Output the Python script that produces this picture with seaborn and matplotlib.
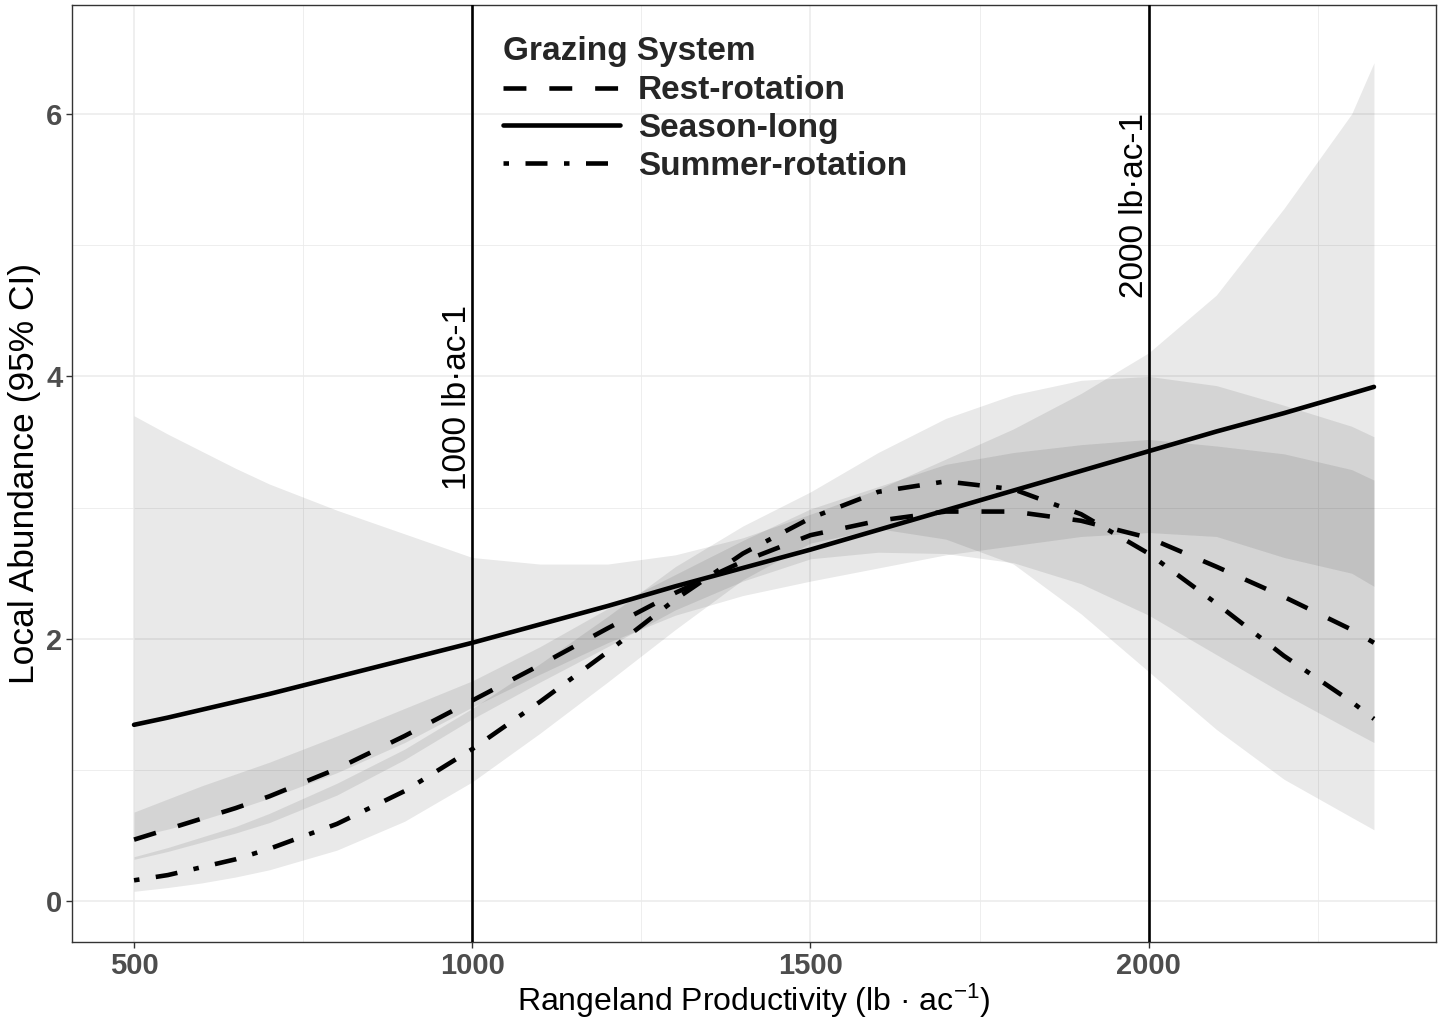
import numpy as np
import pandas as pd
import matplotlib
matplotlib.use("Agg")
import matplotlib.pyplot as plt
import seaborn as sns
from matplotlib.lines import Line2D

# ---------------- data ----------------
productivity = [500, 550, 600, 650, 700, 800, 900, 1000, 1100, 1200, 1300, 1400,
                1500, 1600, 1700, 1800, 1900, 2000, 2100, 2200, 2300, 2333]

season_long = [1.345, 1.40, 1.46, 1.52, 1.58, 1.71, 1.84, 1.97, 2.11, 2.25, 2.40, 2.54,
               2.68, 2.83, 2.98, 3.13, 3.28, 3.43, 3.58, 3.72, 3.87, 3.92]
season_long_lo = [0.49, 0.55, 0.62, 0.70, 0.785, 0.98, 1.21, 1.48, 1.73, 1.97, 2.18, 2.33,
                  2.44, 2.54, 2.64, 2.71, 2.78, 2.81, 2.78, 2.62, 2.50, 2.40]
season_long_hi = [3.70, 3.56, 3.43, 3.30, 3.18, 2.98, 2.80, 2.62, 2.57, 2.57, 2.64, 2.77,
                  2.95, 3.14, 3.37, 3.60, 3.87, 4.18, 4.62, 5.28, 6.00, 6.39]

rest_rotation = [0.47, 0.55, 0.63, 0.71, 0.80, 1.01, 1.26, 1.53, 1.80, 2.08, 2.35, 2.59,
                 2.79, 2.90, 2.97, 2.97, 2.90, 2.77, 2.55, 2.32, 2.07, 1.97]
rest_rotation_lo = [0.32, 0.38, 0.45, 0.52, 0.60, 0.81, 1.08, 1.39, 1.67, 1.94, 2.22, 2.44,
                    2.61, 2.66, 2.65, 2.58, 2.42, 2.18, 1.88, 1.58, 1.30, 1.21]
rest_rotation_hi = [0.68, 0.78, 0.88, 0.97, 1.06, 1.26, 1.47, 1.68, 1.94, 2.23, 2.49, 2.75,
                    2.99, 3.16, 3.33, 3.42, 3.48, 3.52, 3.47, 3.41, 3.29, 3.21]

summer_rotation = [0.16, 0.20, 0.26, 0.32, 0.40, 0.59, 0.84, 1.16, 1.52, 1.90, 2.30, 2.65,
                   2.92, 3.12, 3.20, 3.14, 2.95, 2.65, 2.27, 1.87, 1.52, 1.39]
summer_rotation_lo = [0.076, 0.105, 0.14, 0.185, 0.24, 0.39, 0.61, 0.91, 1.28, 1.67, 2.07, 2.45,
                      2.73, 2.84, 2.76, 2.57, 2.19, 1.75, 1.31, 0.93, 0.64, 0.545]
summer_rotation_hi = [0.34, 0.41, 0.49, 0.57, 0.67, 0.90, 1.16, 1.47, 1.81, 2.17, 2.55, 2.86,
                      3.12, 3.42, 3.68, 3.86, 3.97, 4.00, 3.93, 3.78, 3.62, 3.54]

systems = ["Rest-rotation", "Season-long", "Summer-rotation"]
ref_lines = [1000, 2000]
ref_labels = ["1000 lb\u00b7ac-1", "2000 lb\u00b7ac-1"]
ref_label_y = [3.84, 5.30]
x_major = [500, 1000, 1500, 2000]
x_minor = [750, 1250, 1750, 2250]
y_major = [0, 2, 4, 6]
y_minor = [1, 3, 5]

# ---------------- styling ----------------
sns.set_theme(style="white")
plt.rcParams["font.family"] = ["Liberation Sans", "DejaVu Sans"]
plt.rcParams["mathtext.fontset"] = "custom"
plt.rcParams["mathtext.rm"] = "Liberation Sans"
plt.rcParams["mathtext.default"] = "regular"

W, H = 1451, 1022
AX_L, AX_R, AX_T, AX_B = 72, 1436, 5, 942
fig = plt.figure(figsize=(W / 100, H / 100), dpi=100)
ax = fig.add_axes([AX_L / W, 1 - AX_B / H, (AX_R - AX_L) / W, (AX_B - AX_T) / H])

# ribbons
ribbons = [(rest_rotation_lo, rest_rotation_hi),
           (season_long_lo, season_long_hi),
           (summer_rotation_lo, summer_rotation_hi)]
for lo, hi in ribbons:
    ax.fill_between(productivity, lo, hi, color="black", alpha=0.085, lw=0, zorder=2)

# lines via seaborn
n = len(productivity)
df = pd.DataFrame({
    "Productivity": productivity * 3,
    "Abundance": rest_rotation + season_long + summer_rotation,
    "System": [systems[0]] * n + [systems[1]] * n + [systems[2]] * n,
})
dash_map = {"Rest-rotation": (5.0, 5.0), "Season-long": "",
            "Summer-rotation": (1.2, 3.6, 4.8, 3.6)}
sns.lineplot(data=df, x="Productivity", y="Abundance", style="System",
             dashes=dash_map, color="black", linewidth=3.3, legend=False,
             sort=True, estimator=None, ax=ax, zorder=4)

# reference lines + labels
for xv, lab, yv in zip(ref_lines, ref_labels, ref_label_y):
    ax.axvline(xv, color="black", lw=1.9, zorder=5)
    ax.text(xv - 9, yv, lab, rotation=90, rotation_mode="anchor",
            ha="center", va="baseline", fontsize=24, color="black", zorder=6)

# axes / grid
ax.set_xlim(408.3, 2424.7)
ax.set_ylim(-0.31, 6.83)
ax.set_xticks(x_major)
ax.set_xticks(x_minor, minor=True)
ax.set_yticks(y_major)
ax.set_yticks(y_minor, minor=True)
ax.grid(which="major", color="#EBEBEB", lw=1.1, zorder=0)
ax.grid(which="minor", color="#EBEBEB", lw=0.6, zorder=0)
ax.set_axisbelow(True)
ax.tick_params(which="major", length=4, width=1, color="#333333",
               labelsize=21, labelcolor="#4D4D4D", pad=3,
               bottom=True, left=True)
ax.tick_params(which="minor", length=0)
for lab in ax.get_xticklabels() + ax.get_yticklabels():
    lab.set_fontweight("bold")
for sp in ax.spines.values():
    sp.set_color("#333333")
    sp.set_linewidth(1.0)

ax.set_xlabel("Rangeland Productivity (lb \u00b7 ac$^{-1}$)", fontsize=23,
              color="black", va="center")
ax.xaxis.set_label_coords(0.5, -(1001 - AX_B) / (AX_B - AX_T))
ax.set_ylabel("Local Abundance (95% CI)", fontsize=25.5, color="black", va="center")
ax.yaxis.set_label_coords((25 - AX_L) / (AX_R - AX_L), 0.5)

# legend
handles = [
    Line2D([], [], color="black", lw=3.3, dashes=dash_map["Rest-rotation"]),
    Line2D([], [], color="black", lw=3.3, linestyle="-"),
    Line2D([], [], color="black", lw=3.3, dashes=dash_map["Summer-rotation"]),
]
leg = ax.legend(handles, systems, title="Grazing System", loc="upper left",
                bbox_to_anchor=(503 / W, 1 - 36 / H), bbox_transform=fig.transFigure,
                frameon=False, prop={"weight": "bold", "size": 24},
                title_fontproperties={"weight": "bold", "size": 24},
                handlelength=3.5, handletextpad=0.55, labelspacing=0.2,
                borderpad=0, borderaxespad=0, alignment="left")
leg._legend_box.sep = 6

fig.savefig("out.png", dpi=100)
